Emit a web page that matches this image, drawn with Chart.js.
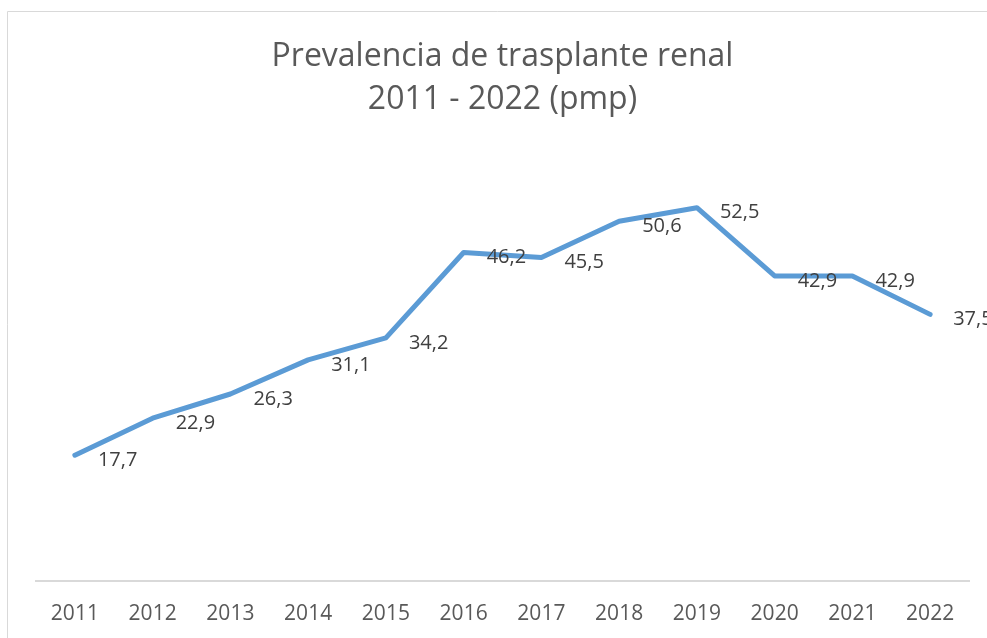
<!DOCTYPE html>
<html>
<head>
<meta charset="utf-8">
<script src="https://cdn.jsdelivr.net/npm/chart.js@4"></script>
<style>
html,body{margin:0;padding:0;background:#fff;}
#wrap{position:relative;width:987px;height:638px;}
</style>
</head>
<body>
<div id="wrap"><canvas id="c" width="987" height="638"></canvas></div>
<script>
const categories = ["2011","2012","2013","2014","2015","2016","2017","2018","2019","2020","2021","2022"];
const prevalence = [17.7, 22.9, 26.3, 31.1, 34.2, 46.2, 45.5, 50.6, 52.5, 42.9, 42.9, 37.5];
const titleLines = ["Prevalencia de trasplante renal", "2011 - 2022 (pmp)"];

const frame = {
  id: 'frame',
  beforeDraw(chart) {
    const ctx = chart.ctx;
    ctx.save();
    ctx.strokeStyle = '#D9D9D9';
    ctx.lineWidth = 1;
    ctx.beginPath();
    ctx.moveTo(7.5, 638);
    ctx.lineTo(7.5, 11.5);
    ctx.lineTo(987, 11.5);
    ctx.stroke();
    ctx.restore();
  }
};

const labels = {
  id: 'dlabels',
  afterDatasetsDraw(chart) {
    const ctx = chart.ctx;
    const meta = chart.getDatasetMeta(0);
    ctx.save();
    ctx.font = '20px "Open Sans"';
    ctx.fillStyle = '#404040';
    ctx.textAlign = 'left';
    ctx.textBaseline = 'middle';
    meta.data.forEach((pt, i) => {
      ctx.fillText(prevalence[i].toFixed(1).replace('.', ','), pt.x + 23, pt.y + 5);
    });
    ctx.restore();
  }
};

new Chart(document.getElementById('c'), {
  type: 'line',
  data: {
    labels: categories,
    datasets: [{
      data: prevalence,
      borderColor: '#5B9BD5',
      borderWidth: 5,
      pointRadius: 0,
      tension: 0,
      fill: false,
      borderCapStyle: 'round',
      borderJoinStyle: 'round'
    }]
  },
  options: {
    responsive: false,
    animation: false,
    layout: { padding: { left: 36, right: 18, top: 0, bottom: 0 } },
    plugins: {
      legend: { display: false },
      tooltip: { enabled: false },
      title: {
        display: true,
        text: titleLines,
        color: '#595959',
        font: { family: '"Open Sans"', size: 32, weight: 'normal', lineHeight: 1.35 },
        padding: { top: 35, bottom: 33 }
      }
    },
    scales: {
      x: {
        offset: true,
        grid: { display: false, drawTicks: false },
        border: { display: true, color: '#D9D9D9', width: 2 },
        ticks: { color: '#595959', font: { family: '"Open Sans"', size: 21 }, padding: 20, maxRotation: 0 },
        afterFit(scale) { scale.height = 57; }
      },
      y: {
        display: false,
        min: 0,
        max: 60
      }
    }
  },
  plugins: [frame, labels]
});
</script>
</body>
</html>
